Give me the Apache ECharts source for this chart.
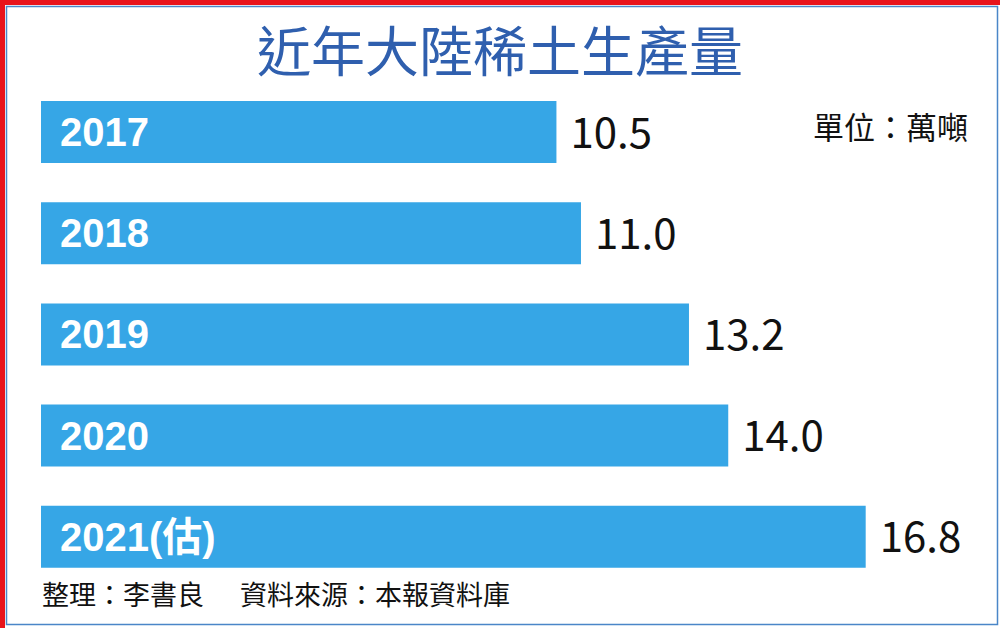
<!DOCTYPE html>
<html>
<head>
<meta charset="utf-8">
<script src="https://cdn.jsdelivr.net/npm/echarts@6/dist/echarts.min.js"></script>
<style>
  html, body { margin: 0; padding: 0; background: #ffffff; }
  #chart { width: 1000px; height: 628px; }
</style>
</head>
<body>
<div id="chart"></div>
<script>
(function() {
  var years = ['2017', '2018', '2019', '2020', '2021(估)'];
  var output = [10.5, 11.0, 13.2, 14.0, 16.8];

  var barColor = '#36a6e6';
  var titleColor = '#2f5fae';
  var latin = "'Liberation Sans', Arial, 'Noto Sans CJK TC', sans-serif";
  var cjk = "'Noto Sans CJK TC', 'Noto Sans', sans-serif";

  var chart = echarts.init(document.getElementById('chart'), null, { renderer: 'svg' });
  chart.setOption({
    animation: false,
    backgroundColor: '#ffffff',
    title: {
      text: '近年大陸稀土生產量',
      left: 'center',
      top: 16,
      textStyle: { color: titleColor, fontSize: 54, fontWeight: 'normal', fontFamily: cjk }
    },
    grid: { left: 41, right: 75.4, top: 81.4, bottom: 40.6, containLabel: false },
    xAxis: {
      type: 'value',
      min: 0,
      max: 18,
      show: false
    },
    yAxis: {
      type: 'category',
      data: years,
      inverse: true,
      z: 10,
      axisLine: { show: false },
      axisTick: { show: false },
      axisLabel: {
        inside: true,
        margin: 19,
        color: '#ffffff',
        fontSize: 40,
        fontWeight: 'bold',
        fontFamily: latin
      }
    },
    series: [{
      type: 'bar',
      data: output,
      barWidth: 62,
      itemStyle: { color: barColor },
      label: {
        show: true,
        position: 'right',
        distance: 14,
        offset: [0, -3],
        color: '#111111',
        fontSize: 42,
        fontFamily: cjk,
        formatter: function(p) { return p.value.toFixed(1); }
      }
    }],
    graphic: [
      { type: 'rect', left: 0, top: 0, shape: { width: 1000, height: 628 },
        style: { fill: 'none', stroke: '#e8141b', lineWidth: 5 }, silent: true },
      { type: 'rect', left: 4, top: 4, shape: { width: 991, height: 618 },
        style: { fill: 'none', stroke: '#4a86c8', lineWidth: 1.5 }, silent: true },
      { type: 'text', right: 32, top: 110,
        style: { text: '單位：萬噸', fill: '#111111', font: 'normal 31px ' + cjk } },
      { type: 'text', left: 42, top: 580,
        style: { text: '整理：李書良', fill: '#111111', font: 'normal 27px ' + cjk } },
      { type: 'text', left: 240, top: 580,
        style: { text: '資料來源：本報資料庫', fill: '#111111', font: 'normal 27px ' + cjk } }
    ]
  });
  window.addEventListener('resize', function() { chart.resize(); });
})();
</script>
</body>
</html>
